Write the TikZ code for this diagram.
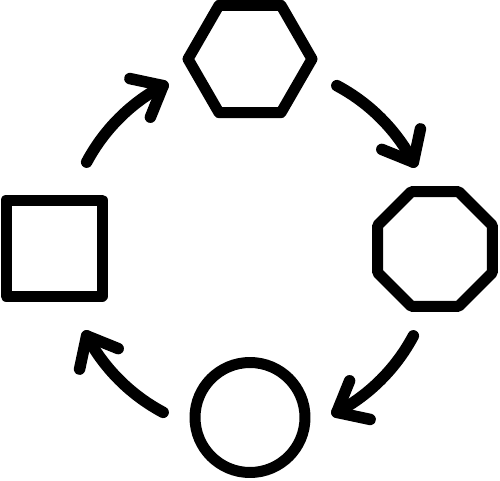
\documentclass[tikz,border=0pt]{standalone}
\usetikzlibrary{shapes.geometric,calc}
\begin{document}
\begin{tikzpicture}[x=1pt,y=1pt,
  shp/.style={draw=black,line width=11pt,line join=round,inner sep=0pt,outer sep=0pt},
  arr/.style={draw=black,line width=11.5pt,line cap=round,line join=round}]
\useasboundingbox (0,0) rectangle (500,480);
\coordinate (C) at (250,231);
\node[shp,regular polygon,regular polygon sides=6,minimum size=124pt] (hex) at (250,421) {};
\node[shp,regular polygon,regular polygon sides=8,minimum size=124pt] (oct) at (435,231) {};
\node[shp,circle,minimum size=110pt] (circ) at (250,62.5) {};
\node[shp,rectangle,minimum width=96pt,minimum height=96pt] (sq) at (54,232) {};
\foreach \s/\e/\n in {152/118/a, 62/28/b, -28/-62/c, -118/-152/d}{
  \coordinate (\n s) at ($(C)+(\s:185)$);
  \coordinate (\n e) at ($(C)+(\e:185)$);
  \draw[arr] (\n s) arc[start angle=\s, end angle=\e, radius=185];
  \draw[arr] ($(\n e)+(\e+50:34)$) -- (\n e) -- ($(\n e)+(\e+130:34)$);
}
\end{tikzpicture}
\end{document}
